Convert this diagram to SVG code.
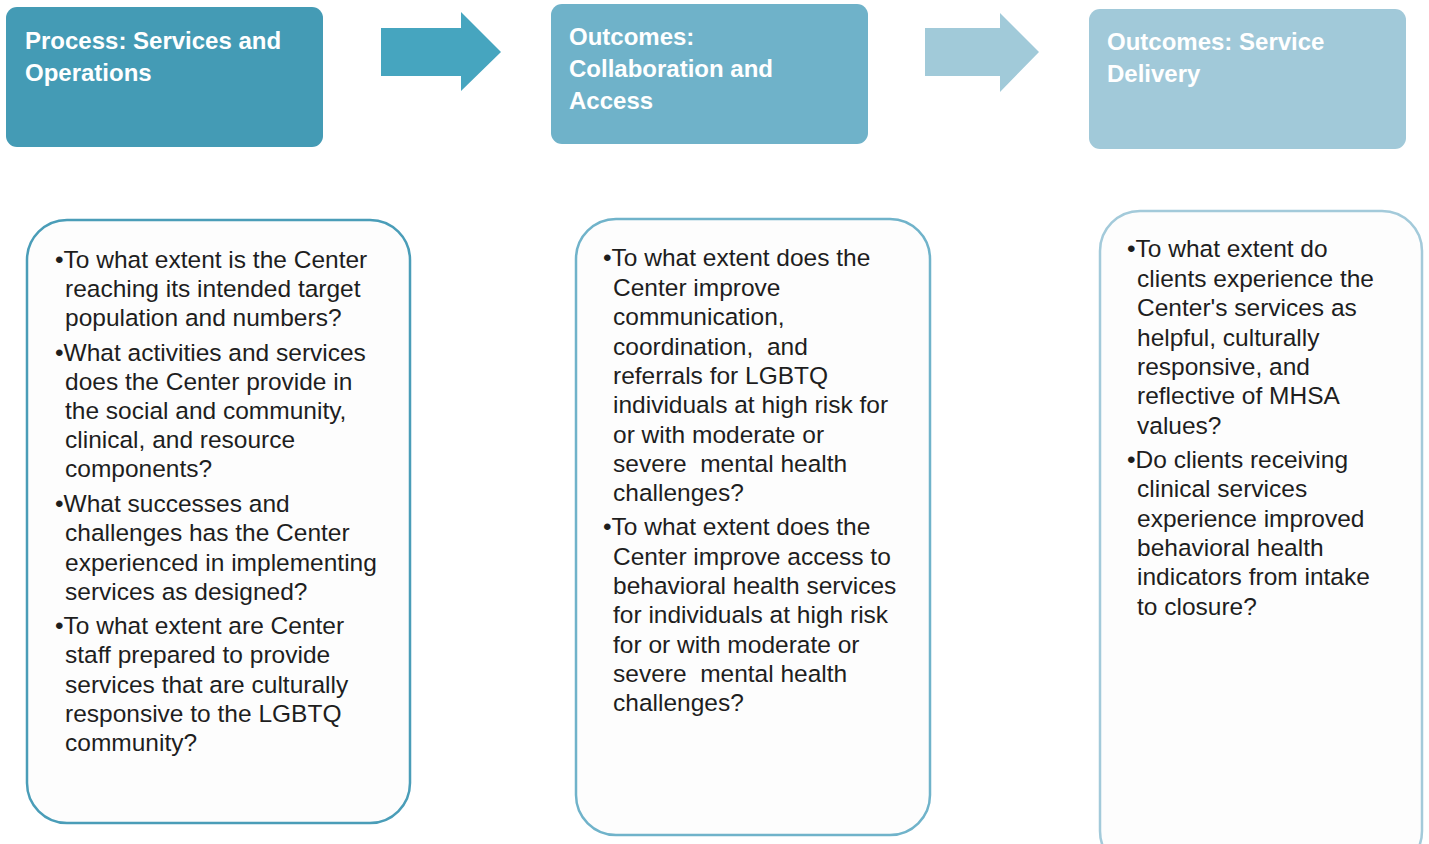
<svg xmlns="http://www.w3.org/2000/svg" width="1429" height="844" viewBox="0 0 1429 844">
<style>
.hdr{font-family:"Liberation Sans",Arial,sans-serif;font-weight:bold;font-size:24px;fill:#ffffff}
.body{font-family:"Liberation Sans",Arial,sans-serif;font-size:24.5px;fill:#1e1e1e}
.card{fill:#fdfdfd;stroke-width:2.5}
</style>
<rect width="1429" height="844" fill="#ffffff"/>
<g id="connectors">
<polygon points="381,28 461,28 461,12 501,52 461,91 461,76 381,76" fill="#46a5bf"/>
<polygon points="925,28 1000,28 1000,13 1039,52 1000,92 1000,76 925,76" fill="#a1cad9"/>
</g>
<g id="header1">
<rect x="6" y="7" width="317" height="140" rx="11" fill="#449bb5"/>
<text class="hdr" x="25" y="49"><tspan x="25">Process: Services and</tspan><tspan x="25" y="81">Operations</tspan></text>
</g>
<g id="header2">
<rect x="551" y="4" width="317" height="140" rx="11" fill="#6fb2c9"/>
<text class="hdr" x="569" y="45"><tspan x="569">Outcomes:</tspan><tspan x="569" y="77">Collaboration and</tspan><tspan x="569" y="109">Access</tspan></text>
</g>
<g id="header3">
<rect x="1089" y="9" width="317" height="140" rx="11" fill="#a1c9d9"/>
<text class="hdr" x="1107" y="50"><tspan x="1107">Outcomes: Service</tspan><tspan x="1107" y="82">Delivery</tspan></text>
</g>
<g id="card1">
<rect class="card" x="27" y="220" width="383" height="603" rx="40" stroke="#4a9db8"/>
<text class="body">
<tspan x="55" y="268">•To what extent is the Center</tspan>
<tspan x="65" y="297">reaching its intended target</tspan>
<tspan x="65" y="326">population and numbers?</tspan>
<tspan x="55" y="361">•What activities and services</tspan>
<tspan x="65" y="390">does the Center provide in</tspan>
<tspan x="65" y="419">the social and community,</tspan>
<tspan x="65" y="448">clinical, and resource</tspan>
<tspan x="65" y="477">components?</tspan>
<tspan x="55" y="512">•What successes and</tspan>
<tspan x="65" y="541">challenges has the Center</tspan>
<tspan x="65" y="571">experienced in implementing</tspan>
<tspan x="65" y="600">services as designed?</tspan>
<tspan x="55" y="634">•To what extent are Center</tspan>
<tspan x="65" y="663">staff prepared to provide</tspan>
<tspan x="65" y="693">services that are culturally</tspan>
<tspan x="65" y="722">responsive to the LGBTQ</tspan>
<tspan x="65" y="751">community?</tspan>
</text>
</g>
<g id="card2">
<rect class="card" x="576" y="219" width="354" height="616" rx="40" stroke="#70b3ca"/>
<text class="body">
<tspan x="603" y="266">•To what extent does the</tspan>
<tspan x="613" y="296">Center improve</tspan>
<tspan x="613" y="325">communication,</tspan>
<tspan x="613" y="355">coordination,&#160; and</tspan>
<tspan x="613" y="384">referrals for LGBTQ</tspan>
<tspan x="613" y="413">individuals at high risk for</tspan>
<tspan x="613" y="443">or with moderate or</tspan>
<tspan x="613" y="472">severe&#160; mental health</tspan>
<tspan x="613" y="501">challenges?</tspan>
<tspan x="603" y="535">•To what extent does the</tspan>
<tspan x="613" y="565">Center improve access to</tspan>
<tspan x="613" y="594">behavioral health services</tspan>
<tspan x="613" y="623">for individuals at high risk</tspan>
<tspan x="613" y="653">for or with moderate or</tspan>
<tspan x="613" y="682">severe&#160; mental health</tspan>
<tspan x="613" y="711">challenges?</tspan>
</text>
</g>
<g id="card3">
<rect class="card" x="1100" y="211" width="322" height="660" rx="40" stroke="#a3cada"/>
<text class="body">
<tspan x="1127" y="257">•To what extent do</tspan>
<tspan x="1137" y="287">clients experience the</tspan>
<tspan x="1137" y="316">Center's services as</tspan>
<tspan x="1137" y="346">helpful, culturally</tspan>
<tspan x="1137" y="375">responsive, and</tspan>
<tspan x="1137" y="404">reflective of MHSA</tspan>
<tspan x="1137" y="434">values?</tspan>
<tspan x="1127" y="468">•Do clients receiving</tspan>
<tspan x="1137" y="497">clinical services</tspan>
<tspan x="1137" y="527">experience improved</tspan>
<tspan x="1137" y="556">behavioral health</tspan>
<tspan x="1137" y="585">indicators from intake</tspan>
<tspan x="1137" y="615">to closure?</tspan>
</text>
</g>
</svg>
